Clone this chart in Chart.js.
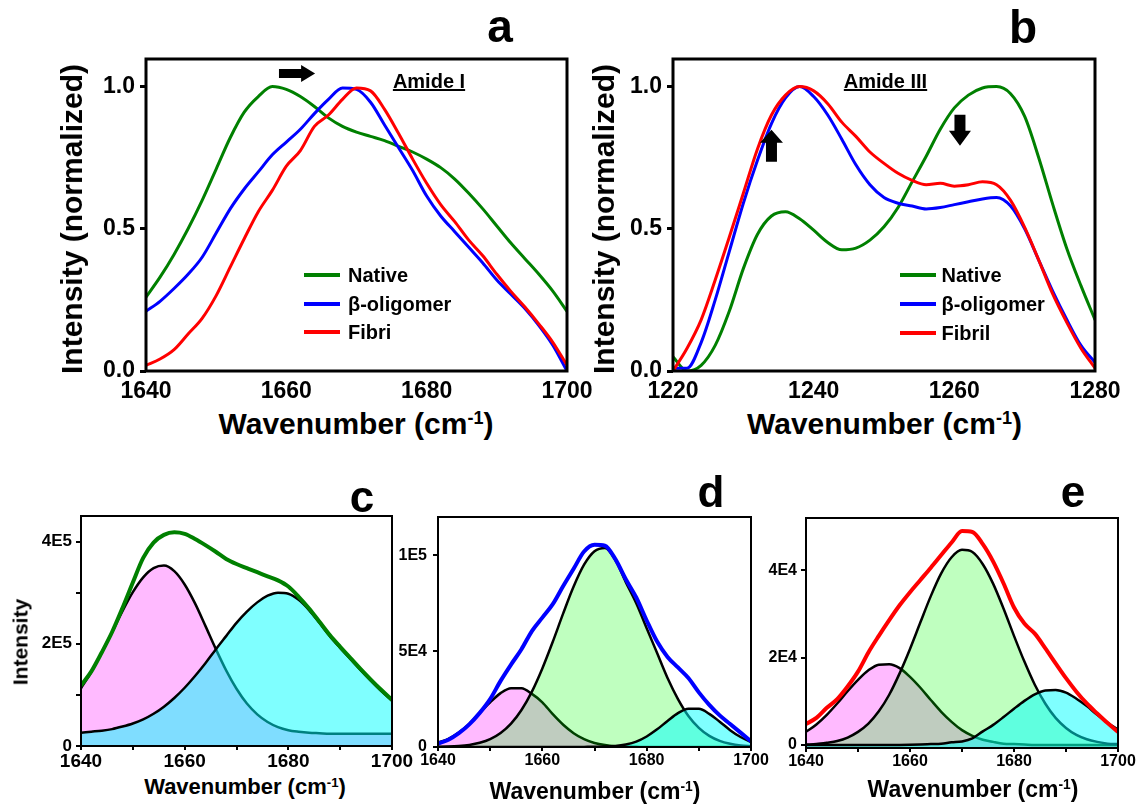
<!DOCTYPE html>
<html>
<head>
<meta charset="utf-8">
<title>Amide I / Amide III spectra</title>
<script src="https://cdn.jsdelivr.net/npm/chart.js@4.4.1/dist/chart.umd.min.js"></script>
<style>
  html, body { margin: 0; padding: 0; background: #fff; }
  body { position: relative; width: 1142px; height: 805px; overflow: hidden;
         font-family: "Liberation Sans", Arial, sans-serif; font-weight: bold; color: #000; }
  canvas { position: absolute; }
  .t { position: absolute; white-space: nowrap; line-height: 1; }
  .cx { transform: translateX(-50%); }
  .rot { transform: translate(-50%, -50%) rotate(-90deg); }
  .sup { position: relative; top: -0.55em; font-size: 0.6em; }
  .swatch { position: absolute; height: 4px; }
  .amide { text-decoration: underline; text-decoration-thickness: 2px; }
</style>
</head>
<body>
<canvas id="chart-a" width="600" height="363" style="left:0;top:39px"></canvas>
<canvas id="chart-b" width="530" height="363" style="left:600px;top:39px"></canvas>
<canvas id="chart-c" width="420" height="275" style="left:0;top:496px"></canvas>
<canvas id="chart-d" width="396" height="275" style="left:380px;top:497px"></canvas>
<canvas id="chart-e" width="392" height="275" style="left:750px;top:498px"></canvas>

<div class="t cx" style="font-size:46px;left:500px;top:3px">a</div>
<div class="t cx" style="font-size:46px;left:1023px;top:4px">b</div>
<div class="t cx" style="font-size:44px;left:362px;top:475px">c</div>
<div class="t cx" style="font-size:44px;left:711px;top:470px">d</div>
<div class="t cx" style="font-size:44px;left:1073px;top:470px">e</div>

<div class="t rot" style="font-size:30px;left:72px;top:219px">Intensity (normalized)</div>
<div class="t rot" style="font-size:30px;left:604px;top:219px">Intensity (normalized)</div>
<div class="t rot" style="font-size:21px;left:20px;top:642px">Intensity</div>

<div class="t cx" style="font-size:30px;left:356px;top:408.6px">Wavenumber (cm<span class="sup">-1</span>)</div>
<div class="t cx" style="font-size:30px;left:884.5px;top:408.6px">Wavenumber (cm<span class="sup">-1</span>)</div>
<div class="t cx" style="font-size:22px;left:245px;top:776.4px">Wavenumber (cm<span class="sup">-1</span>)</div>
<div class="t cx" style="font-size:23px;left:595px;top:779.5px">Wavenumber (cm<span class="sup">-1</span>)</div>
<div class="t cx" style="font-size:23px;left:973px;top:777.5px">Wavenumber (cm<span class="sup">-1</span>)</div>

<div class="t cx amide" style="font-size:20px;left:429px;top:70.7px">Amide I</div>
<div class="t cx amide" style="font-size:20px;left:885.5px;top:70.7px">Amide III</div>

<script>
const FONT = '"Liberation Sans", Arial, sans-serif';
Chart.defaults.font.family = FONT;
Chart.defaults.font.weight = 'bold';
Chart.defaults.color = '#000';

const GREEN = '#008000';
const BLUE = '#0000ff';
const RED = '#ff0000';
const PINK_FILL = 'rgba(255, 0, 255, 0.27)';
const LIME_FILL = 'rgba(0, 255, 0, 0.25)';
const CYAN_FILL = 'rgba(0, 255, 255, 0.5)';

// wavenumber grids (cm-1)
const amideIWave = [1640, 1642, 1644, 1646, 1648, 1650, 1652, 1654, 1656, 1658, 1660, 1662, 1664, 1666, 1668, 1670,
  1672, 1674, 1676, 1678, 1680, 1682, 1684, 1686, 1688, 1690, 1692, 1694, 1696, 1698, 1700];
const amideIIIWave = [1220, 1222, 1224, 1226, 1228, 1230, 1232, 1234, 1236, 1238, 1240, 1242, 1244, 1246, 1248, 1250,
  1252, 1254, 1256, 1258, 1260, 1262, 1264, 1266, 1268, 1270, 1272, 1274, 1276, 1278, 1280];

// tick positions
const amideITicks = [1640, 1660, 1680, 1700];
const amideIIITicks = [1220, 1240, 1260, 1280];
const normTicks = [0, 0.5, 1.0];
const fitWaveTicks = [1640, 1650, 1660, 1670, 1680, 1690, 1700];
const nativeTicks = [0, 100000, 200000, 300000, 400000];
const oligoTicks = [0, 50000, 100000];
const fibrilTicks = [0, 20000, 40000];

// a: amide I, normalized
const amideINative = [0.26, 0.33, 0.41, 0.50, 0.60, 0.71, 0.82, 0.91, 0.965, 1.00, 0.99, 0.965, 0.93, 0.89, 0.86, 0.84,
  0.825, 0.81, 0.79, 0.77, 0.745, 0.715, 0.675, 0.625, 0.57, 0.51, 0.45, 0.395, 0.34, 0.28, 0.21];
const amideIOligomer = [0.21, 0.245, 0.29, 0.34, 0.40, 0.485, 0.57, 0.64, 0.70, 0.76, 0.805, 0.85, 0.905, 0.955, 0.995, 0.99,
  0.945, 0.865, 0.785, 0.705, 0.615, 0.545, 0.49, 0.435, 0.38, 0.32, 0.27, 0.22, 0.16, 0.09, 0.0];
const amideIFibril = [0.02, 0.042, 0.075, 0.13, 0.185, 0.265, 0.365, 0.465, 0.56, 0.635, 0.72, 0.775, 0.86, 0.9, 0.955, 0.995,
  0.985, 0.92, 0.835, 0.745, 0.66, 0.585, 0.525, 0.46, 0.405, 0.34, 0.28, 0.225, 0.165, 0.1, 0.02];

// b: amide III, normalized
const amideIIINative = [0.05, 0.0, 0.02, 0.09, 0.21, 0.36, 0.48, 0.545, 0.56, 0.535, 0.495, 0.452, 0.426, 0.432, 0.46, 0.507,
  0.575, 0.665, 0.755, 0.85, 0.925, 0.97, 0.995, 1.0, 0.975, 0.895, 0.75, 0.585, 0.43, 0.3, 0.18];
const amideIIIOligomer = [0.01, 0.01, 0.10, 0.25, 0.42, 0.59, 0.74, 0.87, 0.96, 1.0, 0.965, 0.9, 0.815, 0.725, 0.655, 0.61,
  0.59, 0.58, 0.57, 0.575, 0.585, 0.595, 0.605, 0.61, 0.58, 0.5, 0.39, 0.28, 0.18, 0.09, 0.03];
const amideIIIFibril = [0.0, 0.08, 0.18, 0.32, 0.47, 0.625, 0.78, 0.9, 0.97, 1.0, 0.985, 0.94, 0.875, 0.825, 0.77, 0.73,
  0.695, 0.67, 0.655, 0.66, 0.65, 0.655, 0.665, 0.655, 0.6, 0.505, 0.39, 0.27, 0.17, 0.08, 0.01];

// c: native amide I, deconvolved
const nativeTotal = [118000, 146000, 183000, 223000, 270000, 320000, 368000, 398000, 413000, 418000, 415000, 405000, 393000,
  380000, 366000, 356000, 348000, 340000, 332000, 324000, 312000, 292000, 269000, 243000, 217000, 194000, 172000, 150000,
  129000, 109000, 90000];
const nativeBand1656 = [113000, 145000, 183000, 223000, 264000, 301000, 330000, 348000, 353000, 342000, 316000, 279000,
  235000, 190000, 148000, 112000, 83000, 62000, 47000, 37000, 31000, 28000, 26000, 25000, 24000, 24000, 24000, 24000,
  24000, 24000, 24000];
const nativeBand1679 = [26000, 28000, 30000, 33000, 38000, 44000, 52000, 63000, 77000, 94000, 114000, 137000, 162000,
  189000, 215000, 241000, 263000, 281000, 294000, 300000, 298000, 286000, 266000, 241000, 215000, 192000, 170000, 148000,
  127000, 107000, 89000];

// d: beta-oligomer amide I, deconvolved
const oligoTotal = [1800, 3800, 7200, 11800, 17800, 25000, 34500, 43000, 51000, 60500, 67500, 74500, 84000, 93000, 102000,
  105500, 105000, 98000, 87500, 78000, 66000, 55000, 47000, 41500, 36000, 28500, 22000, 16500, 12000, 7500, 3000];
const oligoBand1655 = [2200, 4300, 7600, 12100, 17700, 23300, 28100, 30700, 30600, 27700, 23300, 17100, 11600, 7200, 4100,
  2100, 1000, 400, 200, 100, 0, 0, 0, 0, 0, 0, 0, 0, 0, 0, 0];
const oligoBand1672 = [100, 200, 500, 1100, 2200, 4100, 7300, 12200, 19300, 28900, 41000, 54900, 69700, 83700, 95100,
  102100, 103800, 97500, 86000, 75000, 62000, 49000, 36000, 25000, 16200, 10000, 5800, 3200, 1700, 800, 400];
const oligoBand1689 = [0, 0, 0, 0, 0, 0, 0, 0, 0, 0, 0, 0, 0, 0, 50, 100, 200, 500, 1300, 2800, 5500, 9200, 13600, 17700,
  20000, 19900, 17300, 13200, 8800, 5200, 2600];

// e: fibril amide I, deconvolved
const fibrilTotal = [4800, 6200, 8500, 10500, 13400, 16800, 21200, 25000, 28600, 32000, 35000, 37800, 40600, 43500, 46400,
  49000, 48800, 46000, 42000, 37000, 31500, 27800, 25500, 22200, 18700, 15300, 12200, 9500, 7200, 5000, 3000];
const fibrilBand1655 = [3000, 4700, 6900, 9500, 12300, 14900, 17100, 18400, 18500, 17600, 15600, 13100, 10300, 7600, 5300,
  3400, 2100, 1200, 700, 300, 200, 100, 0, 0, 0, 0, 0, 0, 0, 0, 0];
const fibrilBand1671 = [100, 200, 500, 900, 1700, 3000, 4900, 7700, 11500, 16400, 22000, 28100, 34100, 39300, 43000, 44700,
  44200, 41400, 36900, 31200, 25000, 19100, 13800, 9500, 6200, 3900, 2300, 1300, 700, 300, 200];
const fibrilBand1687 = [0, 0, 0, 0, 0, 0, 0, 0, 0, 0, 30, 100, 200, 300, 600, 800, 1500, 3100, 4600, 6400, 8300, 10100,
  11600, 12500, 12600, 12000, 10600, 8900, 6900, 5100, 3500];

const toPoints = (xs, ys) => xs.map((x, i) => ({ x, y: ys[i] }));
const fixedTicks = list => scale => { scale.ticks = list.map(value => ({ value })); };

// "4E5", "5E4", ...
const sciLabel = v => {
  if (Math.abs(v) < 1e-9) return '0';
  const e = Math.floor(Math.log10(v) + 1e-9);
  return `${Math.round(v / 10 ** e)}E${e}`;
};

// closed box around the plot area
const framePlugin = {
  id: 'frame',
  afterDraw(chart, args, opts) {
    const { ctx, chartArea: a } = chart;
    ctx.save();
    ctx.lineWidth = opts.width || 2;
    ctx.strokeStyle = '#000';
    ctx.strokeRect(a.left, a.top, a.right - a.left, a.bottom - a.top);
    ctx.restore();
  }
};

// block arrows placed in data coordinates
const arrowPlugin = {
  id: 'arrows',
  afterDraw(chart, args, opts) {
    const list = opts.list || [];
    const { ctx, scales: { x, y } } = chart;
    list.forEach(a => {
      const x0 = x.getPixelForValue(a.from[0]), y0 = y.getPixelForValue(a.from[1]);
      const x1 = x.getPixelForValue(a.to[0]), y1 = y.getPixelForValue(a.to[1]);
      const len = Math.hypot(x1 - x0, y1 - y0);
      const sw = a.shaft / 2, hw = a.headWidth / 2, hl = a.headLength;
      ctx.save();
      ctx.translate(x0, y0);
      ctx.rotate(Math.atan2(y1 - y0, x1 - x0));
      ctx.fillStyle = '#000';
      ctx.beginPath();
      ctx.moveTo(0, -sw);
      ctx.lineTo(len - hl, -sw);
      ctx.lineTo(len - hl, -hw);
      ctx.lineTo(len, 0);
      ctx.lineTo(len - hl, hw);
      ctx.lineTo(len - hl, sw);
      ctx.lineTo(0, sw);
      ctx.closePath();
      ctx.fill();
      ctx.restore();
    });
  }
};

const tickGrid = (len, width, color) => ({
  drawOnChartArea: false, tickLength: len, tickWidth: width, lineWidth: width, tickColor: color
});

function normalizedChart(id, cfg) {
  return new Chart(document.getElementById(id), {
    type: 'line',
    data: {
      datasets: cfg.series.map(s => ({
        label: s.label,
        data: toPoints(cfg.wave, s.data),
        borderColor: s.color,
        borderWidth: 3,
        pointRadius: 0,
        cubicInterpolationMode: 'monotone',
        fill: false,
        order: s.order
      }))
    },
    options: {
      responsive: false,
      animation: false,
      events: [],
      layout: { padding: cfg.padding },
      plugins: {
        legend: { display: false },
        tooltip: { enabled: false },
        frame: { width: 3 },
        arrows: { list: cfg.arrows }
      },
      scales: {
        x: {
          type: 'linear', min: cfg.wave[0], max: cfg.wave[cfg.wave.length - 1],
          afterBuildTicks: fixedTicks(cfg.xTicks),
          afterFit: s => { s.height = 29; },
          ticks: { autoSkip: false, maxRotation: 0, padding: 1, font: { size: 23 }, callback: v => String(v) },
          grid: tickGrid(6, 3, 'rgba(0,0,0,0)'),
          border: { display: false }
        },
        y: {
          min: 0, max: 1.097,
          afterBuildTicks: fixedTicks(normTicks),
          afterFit: s => { s.width = 50; },
          ticks: { autoSkip: false, padding: 5, font: { size: 23 }, callback: v => v.toFixed(1) },
          grid: tickGrid(6, 3, '#000'),
          border: { display: false }
        }
      }
    },
    plugins: [framePlugin, arrowPlugin]
  });
}

function fitChart(id, cfg) {
  const fillTo = cfg.yMin < 0 ? 'start' : 'origin';
  const bands = cfg.bands.map((b, i) => ({
    data: toPoints(amideIWave, b.data),
    borderColor: '#000',
    borderWidth: 2.5,
    backgroundColor: b.fill,
    fill: fillTo,
    pointRadius: 0,
    cubicInterpolationMode: 'monotone',
    order: cfg.bands.length - i
  }));
  const total = {
    data: toPoints(amideIWave, cfg.total),
    borderColor: cfg.color,
    borderWidth: 4,
    fill: false,
    pointRadius: 0,
    cubicInterpolationMode: 'monotone',
    order: 0
  };
  return new Chart(document.getElementById(id), {
    type: 'line',
    data: { datasets: [total, ...bands] },
    options: {
      responsive: false,
      animation: false,
      events: [],
      layout: { padding: cfg.padding },
      plugins: {
        legend: { display: false },
        tooltip: { enabled: false },
        frame: { width: 2 }
      },
      scales: {
        x: {
          type: 'linear', min: 1640, max: 1700,
          afterBuildTicks: fixedTicks(fitWaveTicks),
          afterFit: s => { s.height = 25; },
          ticks: {
            autoSkip: false, maxRotation: 0, padding: 0,
            font: { size: cfg.xFont }, callback: v => (v % 20 === 0 ? String(v) : '')
          },
          grid: tickGrid(4, 2, '#000'),
          border: { display: false }
        },
        y: {
          min: cfg.yMin, max: cfg.yMax,
          afterBuildTicks: fixedTicks(cfg.yTicks),
          afterFit: s => { s.width = 45; },
          ticks: {
            autoSkip: false, padding: cfg.yPad,
            font: { size: cfg.yFont },
            callback: v => (Math.round(v) % cfg.labelStep === 0 ? sciLabel(v) : '')
          },
          grid: tickGrid(5, 2, '#000'),
          border: { display: false }
        }
      }
    },
    plugins: [framePlugin]
  });
}

normalizedChart('chart-a', {
  wave: amideIWave, xTicks: amideITicks,
  padding: { left: 96, right: 33, top: 20, bottom: 2 },
  series: [
    { label: 'Native', data: amideINative, color: GREEN, order: 2 },
    { label: 'β-oligomer', data: amideIOligomer, color: BLUE, order: 1 },
    { label: 'Fibri', data: amideIFibril, color: RED, order: 0 }
  ],
  arrows: [{ from: [1658.95, 1.046], to: [1664.1, 1.046], shaft: 9, headWidth: 17, headLength: 14 }]
});

normalizedChart('chart-b', {
  wave: amideIIIWave, xTicks: amideIIITicks,
  padding: { left: 23, right: 35, top: 20, bottom: 2 },
  series: [
    { label: 'Native', data: amideIIINative, color: GREEN, order: 2 },
    { label: 'β-oligomer', data: amideIIIOligomer, color: BLUE, order: 1 },
    { label: 'Fibril', data: amideIIIFibril, color: RED, order: 0 }
  ],
  arrows: [
    { from: [1234.0, 0.736], to: [1234.0, 0.848], shaft: 11, headWidth: 23, headLength: 13 },
    { from: [1260.8, 0.901], to: [1260.8, 0.792], shaft: 11, headWidth: 22, headLength: 15 }
  ]
});

fitChart('chart-c', {
  padding: { left: 36, right: 28, top: 20, bottom: 0 },
  total: nativeTotal, color: GREEN,
  bands: [{ data: nativeBand1656, fill: PINK_FILL }, { data: nativeBand1679, fill: CYAN_FILL }],
  yMin: 0, yMax: 450000, yTicks: nativeTicks, labelStep: 200000, yPad: 4, yFont: 17, xFont: 19
});

fitChart('chart-d', {
  padding: { left: 13, right: 25, top: 20, bottom: 0 },
  total: oligoTotal, color: BLUE,
  bands: [{ data: oligoBand1655, fill: PINK_FILL }, { data: oligoBand1672, fill: LIME_FILL }, { data: oligoBand1689, fill: CYAN_FILL }],
  yMin: 0, yMax: 120000, yTicks: oligoTicks, labelStep: 50000, yPad: 6, yFont: 16, xFont: 16
});

fitChart('chart-e', {
  padding: { left: 11, right: 24, top: 20, bottom: 0 },
  total: fibrilTotal, color: RED,
  bands: [{ data: fibrilBand1655, fill: PINK_FILL }, { data: fibrilBand1671, fill: LIME_FILL }, { data: fibrilBand1687, fill: CYAN_FILL }],
  yMin: -700, yMax: 52000, yTicks: fibrilTicks, labelStep: 20000, yPad: 4, yFont: 16, xFont: 16
});

// legends drawn as page text next to coloured swatches
function addLegend(lineLeft, textLeft, rows, items) {
  items.forEach((it, i) => {
    const y = rows[i];
    const sw = document.createElement('div');
    sw.className = 'swatch';
    sw.style.cssText = `left:${lineLeft}px;top:${y - 2}px;width:36px;background:${it.color}`;
    document.body.appendChild(sw);
    const tx = document.createElement('div');
    tx.className = 't';
    tx.style.cssText = `font-size:20px;left:${textLeft}px;top:${y - 9.7}px`;
    tx.textContent = it.label;
    document.body.appendChild(tx);
  });
}
addLegend(304, 348, [275, 303.5, 332], [
  { label: 'Native', color: GREEN }, { label: 'β-oligomer', color: BLUE }, { label: 'Fibri', color: RED }
]);
addLegend(899.5, 941.5, [275, 304, 333], [
  { label: 'Native', color: GREEN }, { label: 'β-oligomer', color: BLUE }, { label: 'Fibril', color: RED }
]);
</script>
</body>
</html>
